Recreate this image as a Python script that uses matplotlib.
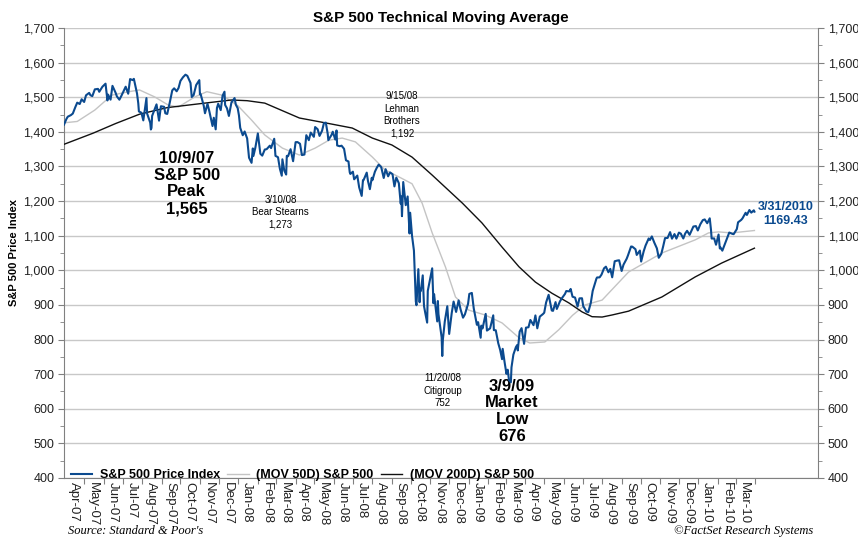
import matplotlib
matplotlib.use("Agg")
import matplotlib.pyplot as plt
import matplotlib.dates as mdates
from matplotlib.ticker import FixedLocator, MultipleLocator, FuncFormatter
import pandas as pd
from datetime import datetime

plt.rcParams['font.family'] = ['Liberation Sans', 'DejaVu Sans']

# ---------------- data ----------------
price_dates = [
 "2007-03-30","2007-04-03","2007-04-05","2007-04-10","2007-04-13","2007-04-17","2007-04-20","2007-04-24","2007-04-27",
 "2007-05-01","2007-05-04","2007-05-09","2007-05-11","2007-05-14","2007-05-18","2007-05-23","2007-05-25","2007-05-30",
 "2007-06-04","2007-06-07","2007-06-08","2007-06-12","2007-06-15","2007-06-20","2007-06-22","2007-06-26","2007-06-29",
 "2007-07-06","2007-07-10","2007-07-13","2007-07-17","2007-07-19","2007-07-24","2007-07-26","2007-07-27","2007-07-31",
 "2007-08-03","2007-08-08","2007-08-09","2007-08-14","2007-08-15","2007-08-16","2007-08-17","2007-08-24","2007-08-28","2007-08-31",
 "2007-09-05","2007-09-07","2007-09-10","2007-09-14","2007-09-18","2007-09-21","2007-09-25","2007-09-28",
 "2007-10-01","2007-10-05","2007-10-09","2007-10-12","2007-10-17","2007-10-19","2007-10-22","2007-10-26","2007-10-31",
 "2007-11-01","2007-11-02","2007-11-07","2007-11-09","2007-11-13","2007-11-16","2007-11-21","2007-11-23","2007-11-26","2007-11-28","2007-11-30",
 "2007-12-04","2007-12-07","2007-12-10","2007-12-11","2007-12-14","2007-12-17","2007-12-21","2007-12-26","2007-12-28","2007-12-31",
 "2008-01-02","2008-01-04","2008-01-08","2008-01-11","2008-01-15","2008-01-18","2008-01-22","2008-01-24","2008-01-25","2008-01-28",
 "2008-02-01","2008-02-05","2008-02-08","2008-02-12","2008-02-15","2008-02-20","2008-02-22","2008-02-27","2008-02-29",
 "2008-03-04","2008-03-07","2008-03-10","2008-03-11","2008-03-14","2008-03-17","2008-03-18","2008-03-20","2008-03-24","2008-03-28",
 "2008-04-01","2008-04-04","2008-04-08","2008-04-11","2008-04-15","2008-04-18","2008-04-22","2008-04-25","2008-04-30",
 "2008-05-02","2008-05-06","2008-05-09","2008-05-13","2008-05-16","2008-05-19","2008-05-22","2008-05-23","2008-05-28","2008-05-30",
 "2008-06-03","2008-06-05","2008-06-06","2008-06-10","2008-06-13","2008-06-17","2008-06-20","2008-06-24","2008-06-26","2008-06-27",
 "2008-07-01","2008-07-03","2008-07-08","2008-07-11","2008-07-15","2008-07-17","2008-07-18","2008-07-23","2008-07-25","2008-07-28","2008-07-31",
 "2008-08-01","2008-08-05","2008-08-08","2008-08-11","2008-08-15","2008-08-19","2008-08-22","2008-08-26","2008-08-29",
 "2008-09-02","2008-09-05","2008-09-08","2008-09-12","2008-09-15","2008-09-16","2008-09-17","2008-09-19","2008-09-23","2008-09-26","2008-09-29","2008-09-30",
 "2008-10-03","2008-10-06","2008-10-09","2008-10-10","2008-10-13","2008-10-15","2008-10-16","2008-10-17","2008-10-20","2008-10-22","2008-10-24","2008-10-27","2008-10-28","2008-10-31",
 "2008-11-04","2008-11-06","2008-11-07","2008-11-12","2008-11-13","2008-11-14","2008-11-19","2008-11-20","2008-11-21","2008-11-24","2008-11-28",
 "2008-12-01","2008-12-05","2008-12-08","2008-12-12","2008-12-16","2008-12-19","2008-12-23","2008-12-26","2008-12-31",
 "2009-01-02","2009-01-06","2009-01-09","2009-01-14","2009-01-16","2009-01-20","2009-01-21","2009-01-23","2009-01-28","2009-01-30",
 "2009-02-04","2009-02-09","2009-02-10","2009-02-13","2009-02-17","2009-02-20","2009-02-23","2009-02-24","2009-02-27",
 "2009-03-02","2009-03-04","2009-03-06","2009-03-09","2009-03-10","2009-03-13","2009-03-17","2009-03-19","2009-03-20","2009-03-23","2009-03-26","2009-03-30",
 "2009-04-02","2009-04-06","2009-04-09","2009-04-14","2009-04-17","2009-04-20","2009-04-24","2009-04-29",
 "2009-05-01","2009-05-04","2009-05-08","2009-05-13","2009-05-15","2009-05-19","2009-05-21","2009-05-26","2009-05-29",
 "2009-06-03","2009-06-05","2009-06-10","2009-06-12","2009-06-15","2009-06-19","2009-06-23","2009-06-26","2009-06-30",
 "2009-07-02","2009-07-07","2009-07-10","2009-07-14","2009-07-17","2009-07-23","2009-07-24","2009-07-28","2009-07-31",
 "2009-08-04","2009-08-07","2009-08-11","2009-08-14","2009-08-17","2009-08-21","2009-08-25","2009-08-28",
 "2009-09-01","2009-09-04","2009-09-09","2009-09-11","2009-09-16","2009-09-18","2009-09-23","2009-09-25","2009-09-30",
 "2009-10-02","2009-10-06","2009-10-09","2009-10-14","2009-10-16","2009-10-19","2009-10-23","2009-10-27","2009-10-30",
 "2009-11-03","2009-11-06","2009-11-09","2009-11-13","2009-11-17","2009-11-20","2009-11-24","2009-11-27",
 "2009-12-01","2009-12-04","2009-12-08","2009-12-11","2009-12-14","2009-12-18","2009-12-24","2009-12-28","2009-12-31",
 "2010-01-04","2010-01-08","2010-01-11","2010-01-15","2010-01-19","2010-01-21","2010-01-22","2010-01-26","2010-01-29",
 "2010-02-02","2010-02-04","2010-02-05","2010-02-08","2010-02-12","2010-02-16","2010-02-19","2010-02-24","2010-02-26",
 "2010-03-03","2010-03-05","2010-03-10","2010-03-12","2010-03-17","2010-03-19","2010-03-23","2010-03-26","2010-03-30","2010-03-31",
]
price_values = [
 1420.86,1437.77,1443.76,1448.39,1452.85,1471.48,1484.35,1480.41,1494.07,
 1486.30,1505.62,1512.58,1505.85,1503.15,1522.75,1524.12,1515.73,1530.23,
 1539.18,1490.72,1507.67,1493.00,1532.91,1512.84,1502.56,1492.89,1503.35,
 1530.44,1510.12,1552.50,1549.52,1553.08,1511.04,1482.66,1458.95,1455.27,
 1433.06,1497.49,1453.09,1426.54,1406.70,1411.27,1445.94,1479.37,1432.36,1473.99,
 1472.29,1453.55,1451.70,1484.25,1519.78,1525.75,1517.21,1526.75,
 1547.04,1557.59,1565.15,1561.80,1541.24,1500.63,1506.33,1535.28,1549.38,
 1508.44,1509.65,1475.62,1453.70,1481.05,1458.74,1416.77,1440.70,1407.22,1469.02,1481.14,
 1462.79,1504.66,1515.96,1477.65,1467.95,1445.90,1484.46,1497.66,1478.49,1468.36,
 1447.16,1411.63,1390.19,1401.02,1380.95,1325.19,1310.50,1352.07,1330.61,1353.97,
 1395.42,1336.64,1331.29,1348.86,1349.99,1360.03,1353.11,1380.02,1330.63,
 1326.75,1293.37,1273.37,1320.65,1288.14,1276.60,1330.74,1329.51,1349.88,1315.22,
 1370.18,1370.40,1365.54,1332.83,1334.43,1390.33,1375.94,1397.84,1385.59,
 1413.90,1407.49,1388.28,1403.04,1425.35,1426.63,1394.35,1375.93,1390.84,1400.38,
 1377.65,1404.05,1360.68,1358.44,1360.03,1350.93,1317.93,1314.29,1283.15,1278.38,
 1284.91,1262.90,1273.70,1239.49,1214.91,1260.32,1260.68,1282.19,1257.76,1234.37,1267.38,
 1260.31,1284.88,1296.32,1305.32,1298.20,1266.69,1292.20,1271.51,1282.83,
 1277.58,1242.31,1267.79,1251.70,1192.70,1213.60,1156.39,1255.08,1188.22,1213.27,1106.39,1166.36,
 1099.23,1056.89,909.92,899.22,1003.35,907.84,946.43,940.55,985.40,896.78,876.77,848.92,940.51,968.75,
 1005.75,904.88,930.99,852.30,911.29,873.29,806.58,752.44,800.03,851.81,896.24,
 816.21,876.07,909.70,879.73,913.18,887.88,863.16,872.80,903.25,
 931.80,934.70,890.35,842.62,850.12,805.22,840.24,831.95,874.09,825.88,
 832.23,869.89,827.16,826.84,789.17,770.05,743.33,773.14,735.09,
 700.82,712.87,683.38,676.53,719.60,756.55,778.12,784.04,768.54,822.92,832.86,787.53,
 834.38,835.48,856.56,841.50,869.60,832.39,866.23,873.64,
 877.52,907.24,929.23,883.92,882.88,908.13,888.33,910.33,919.14,
 931.76,940.09,939.15,946.21,923.72,921.23,895.10,918.90,919.32,
 896.42,881.03,879.13,905.84,940.38,976.29,979.26,979.62,987.48,
 1005.65,1010.48,994.35,1004.09,979.73,1026.13,1028.12,1028.93,
 998.04,1016.40,1033.37,1042.73,1068.76,1068.30,1060.87,1044.38,1057.08,
 1025.21,1054.72,1071.49,1092.02,1087.68,1097.91,1079.60,1063.41,1036.19,
 1047.41,1069.30,1093.08,1093.48,1110.32,1091.38,1104.66,1091.49,
 1108.86,1105.98,1091.94,1106.41,1114.11,1102.47,1126.48,1127.78,1115.10,
 1132.99,1144.98,1146.98,1136.03,1150.23,1116.48,1091.76,1092.17,1073.87,
 1103.32,1063.11,1066.19,1056.74,1075.51,1094.87,1109.17,1105.24,1104.49,
 1119.06,1138.70,1145.61,1149.99,1166.21,1159.90,1174.17,1166.59,1173.27,1169.43,
]

ma50_dates = [
 "2007-03-30","2007-04-20","2007-05-18","2007-06-14","2007-07-11","2007-07-28","2007-08-21","2007-09-12","2007-09-28",
 "2007-10-24","2007-11-12","2007-12-06","2007-12-31","2008-01-22","2008-02-12","2008-03-11","2008-04-07","2008-05-02",
 "2008-05-24","2008-06-14","2008-07-05","2008-08-01","2008-08-21","2008-09-12","2008-10-03","2008-10-19","2008-11-04",
 "2008-11-25","2008-12-11","2009-01-01","2009-01-27","2009-02-23","2009-03-22","2009-04-08","2009-05-02","2009-05-24",
 "2009-06-15","2009-07-05","2009-08-01","2009-09-12","2009-11-04","2009-12-27","2010-01-17","2010-02-02","2010-02-23","2010-03-31",
]
ma50_values = [
 1426, 1430, 1463, 1506, 1516, 1521, 1501, 1477, 1472,
 1501, 1516, 1506, 1476, 1434, 1391, 1353, 1333, 1353,
 1376, 1382, 1371, 1327, 1290, 1270, 1250, 1194, 1108,
 1010, 923, 885, 871, 848, 805, 790, 793, 828,
 870, 900, 914, 995, 1050, 1088, 1108, 1111, 1108, 1115,
]

ma200_dates = [
 "2007-03-30","2007-05-15","2007-06-20","2007-07-28","2007-09-10","2007-11-04","2007-12-21","2008-01-15","2008-02-12",
 "2008-04-07","2008-05-21","2008-06-30","2008-08-01","2008-09-01","2008-10-03","2008-11-04","2008-12-22","2009-01-22",
 "2009-02-23","2009-03-22","2009-04-17","2009-05-13","2009-06-09","2009-06-30","2009-07-16","2009-08-01","2009-08-17",
 "2009-09-12","2009-11-04","2009-12-27","2010-02-07","2010-03-31",
]
ma200_values = [
 1364, 1396, 1424, 1451, 1470, 1482, 1492, 1490, 1483,
 1440, 1425, 1411, 1382, 1362, 1327, 1275, 1194, 1137,
 1067, 1010, 966, 934, 906, 880, 866, 865, 871,
 882, 923, 981, 1021, 1064,
]

month_labels = ["Apr-07","May-07","Jun-07","Jul-07","Aug-07","Sep-07","Oct-07","Nov-07","Dec-07",
                "Jan-08","Feb-08","Mar-08","Apr-08","May-08","Jun-08","Jul-08","Aug-08","Sep-08",
                "Oct-08","Nov-08","Dec-08","Jan-09","Feb-09","Mar-09","Apr-09","May-09","Jun-09",
                "Jul-09","Aug-09","Sep-09","Oct-09","Nov-09","Dec-09","Jan-10","Feb-10","Mar-10"]
y_ticks = [400, 500, 600, 700, 800, 900, 1000, 1100, 1200, 1300, 1400, 1500, 1600, 1700]

# ---------------- plot ----------------
blue = "#0b4a8f"
fig = plt.figure(figsize=(8.58, 5.38), dpi=100)
ax = fig.add_axes([64/858, 60/538, (818-64)/858, (478-28)/538])

pdates = pd.to_datetime(price_dates)
ax.plot(pd.to_datetime(ma50_dates), ma50_values, color="#c4c4c4", lw=1.0, label="(MOV 50D) S&P 500", zorder=3)
ax.plot(pd.to_datetime(ma200_dates), ma200_values, color="#111111", lw=1.0, label="(MOV 200D) S&P 500", zorder=3)
ax.plot(pdates, price_values, color=blue, lw=1.5, label="S&P 500 Price Index", zorder=4)

ax.set_ylim(400, 1700)
ax.set_xlim(datetime(2007, 3, 30), datetime(2010, 7, 10))

# y axis
ax.yaxis.set_major_locator(FixedLocator(y_ticks))
ax.yaxis.set_minor_locator(MultipleLocator(50))
ax.yaxis.set_major_formatter(FuncFormatter(lambda v, p: f"{int(v):,}"))
ax.yaxis.set_ticks_position('both')
ax.tick_params(axis='y', which='major', labelleft=True, labelright=True, length=4,
               color="#808080", labelsize=9, labelcolor="#222222", pad=3)
ax.tick_params(axis='y', which='minor', length=3, color="#808080")
ax.grid(axis='y', which='major', color="#c8c8c8", lw=1.0, zorder=0)

# x axis
label_pos = [datetime.strptime(m, "%b-%y").replace(day=15) for m in month_labels]
tick_pos = [datetime.strptime(m, "%b-%y").replace(day=1) for m in month_labels[1:]] + [datetime(2010, 4, 1)]
ax.xaxis.set_major_locator(FixedLocator(mdates.date2num(tick_pos)))
ax.xaxis.set_major_formatter(FuncFormatter(lambda v, p: ""))
ax.set_xticks(mdates.date2num(label_pos), labels=month_labels, minor=True)
ax.tick_params(axis='x', which='major', length=4, color="#808080")
ax.tick_params(axis='x', which='minor', length=0, labelsize=9.5, labelrotation=-90, pad=3, labelcolor="#222222")

for s in ['left', 'right', 'bottom']:
    ax.spines[s].set_color("#808080")
ax.spines['top'].set_visible(False)

ax.set_ylabel("S&P 500 Price Index", fontsize=8, fontweight='bold', labelpad=3)

ax.set_title("S&P 500 Technical Moving Average", fontsize=11, fontweight='bold', pad=4)

# legend
h, l = ax.get_legend_handles_labels()
order = [2, 0, 1]
ax.legend([h[i] for i in order], [l[i] for i in order], loc='lower left', ncol=3, frameon=False,
          prop={'weight': 'bold', 'size': 9}, handlelength=1.7, columnspacing=0.6, handletextpad=0.6,
          borderaxespad=0.15, bbox_to_anchor=(0.0, -0.022))

# annotations
ax.text(datetime(2007, 10, 11), 1345, "10/9/07\nS&P 500\nPeak\n1,565", ha='center', va='top',
        fontsize=12, fontweight='bold', linespacing=1.15)
ax.text(datetime(2008, 3, 8), 1218, "3/10/08\nBear Stearns\n1,273", ha='center', va='top',
        fontsize=7, linespacing=1.3)
ax.text(datetime(2008, 9, 17), 1517, "9/15/08\nLehman\nBrothers\n1,192", ha='center', va='top',
        fontsize=7, linespacing=1.3)
ax.text(datetime(2008, 11, 21), 703, "11/20/08\nCitigroup\n752", ha='center', va='top',
        fontsize=7, linespacing=1.3)
ax.text(datetime(2009, 3, 11), 687, "3/9/09\nMarket\nLow\n676", ha='center', va='top',
        fontsize=12, fontweight='bold', linespacing=1.15)
ax.text(datetime(2010, 5, 19), 1163, "3/31/2010\n1169.43", ha='center', va='center',
        fontsize=9, fontweight='bold', color=blue, linespacing=1.2)

fig.text(68/858, 1 - 531/538, "Source: Standard & Poor's", fontsize=9, style='italic',
         family=['Liberation Serif', 'DejaVu Serif'], va='center', ha='left')
fig.text(813/858, 1 - 531/538, "\u00a9FactSet Research Systems", fontsize=9, style='italic',
         family=['Liberation Serif', 'DejaVu Serif'], va='center', ha='right')

fig.savefig("out.png", dpi=100)
